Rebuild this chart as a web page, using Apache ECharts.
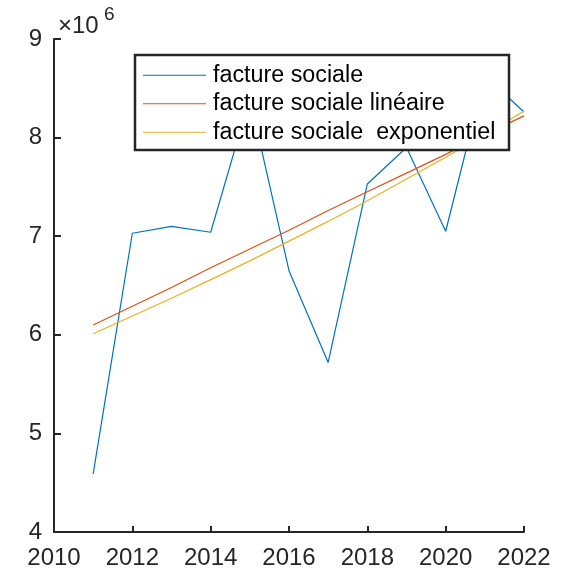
<!DOCTYPE html>
<html>
<head>
<meta charset="utf-8">
<script src="https://cdn.jsdelivr.net/npm/echarts@6/dist/echarts.min.js"></script>
<style>
html,body{margin:0;padding:0;background:#fff;}
#c{width:585px;height:575px;}
</style>
</head>
<body>
<div id="c"></div>
<script>
const years = [2011, 2012, 2013, 2014, 2015, 2016, 2017, 2018, 2019, 2020, 2021, 2022];
const factureSociale = [4.59, 7.03, 7.10, 7.04, 8.40, 6.65, 5.72, 7.53, 7.90, 7.05, 8.63, 8.26];
const factureLineaire = [6.10, 6.29, 6.48, 6.68, 6.87, 7.06, 7.26, 7.45, 7.64, 7.83, 8.03, 8.22];
const factureExpo = [6.01, 6.19, 6.37, 6.56, 6.75, 6.95, 7.15, 7.36, 7.58, 7.80, 8.03, 8.27];
const seriesNames = ['facture sociale', 'facture sociale linéaire', 'facture sociale  exponentiel'];
const seriesColors = ['#0072BD', '#D95319', '#EDB120'];
const scale = 1e6;

const toPairs = arr => years.map((y, i) => [y, arr[i] * scale]);
const allData = [factureSociale, factureLineaire, factureExpo];

const chart = echarts.init(document.getElementById('c'), null, {renderer: 'canvas'});
const font = 'Liberation Sans, Arial, Helvetica, sans-serif';
chart.setOption({
  animation: false,
  backgroundColor: '#fff',
  grid: {left: 54, right: 61, top: 39, bottom: 43, containLabel: false},
  xAxis: {
    type: 'value', min: 2010, max: 2022, interval: 2,
    axisLine: {show: true, lineStyle: {color: '#262626', width: 2}},
    axisTick: {show: true, inside: true, length: 6, lineStyle: {color: '#262626', width: 2}},
    axisLabel: {color: '#262626', fontSize: 24, fontFamily: font, margin: 14, formatter: v => String(v)},
    splitLine: {show: false}
  },
  yAxis: {
    type: 'value', min: 4 * scale, max: 9 * scale, interval: scale,
    axisLine: {show: true, lineStyle: {color: '#262626', width: 2}},
    axisTick: {show: true, inside: true, length: 7, lineStyle: {color: '#262626', width: 2}},
    axisLabel: {color: '#262626', fontSize: 24, fontFamily: font, margin: 12, padding: [7, 0, 0, 0], formatter: v => String(Math.round(v / scale))},
    splitLine: {show: false}
  },
  legend: {
    orient: 'vertical',
    left: 143, top: 61,
    padding: 0,
    itemGap: 0,
    itemWidth: 63, itemHeight: 1,
    data: seriesNames.map(n => ({name: n, icon: 'rect'})),
    textStyle: {color: '#000', fontSize: 23.3, fontFamily: font, lineHeight: 28.5, padding: [0, 0, 0, 2]},
    z: 10
  },
  graphic: [
    {type: 'rect', shape: {x: 135, y: 55, width: 374, height: 95}, style: {fill: '#fff', stroke: '#262626', lineWidth: 2.5}, z: 5},
    {type: 'text', left: 58, top: 14, z: 10, style: {text: '×10', fontSize: 24, fontFamily: font, fill: '#262626'}},
    {type: 'text', left: 104, top: 5, z: 10, style: {text: '6', fontSize: 19, fontFamily: font, fill: '#262626'}}
  ],
  series: seriesNames.map((name, i) => ({
    name: name,
    type: 'line',
    data: toPairs(allData[i]),
    symbol: 'none',
    showSymbol: false,
    lineStyle: {color: seriesColors[i], width: 1.2},
    itemStyle: {color: seriesColors[i]},
    z: 2
  }))
});
</script>
</body>
</html>
